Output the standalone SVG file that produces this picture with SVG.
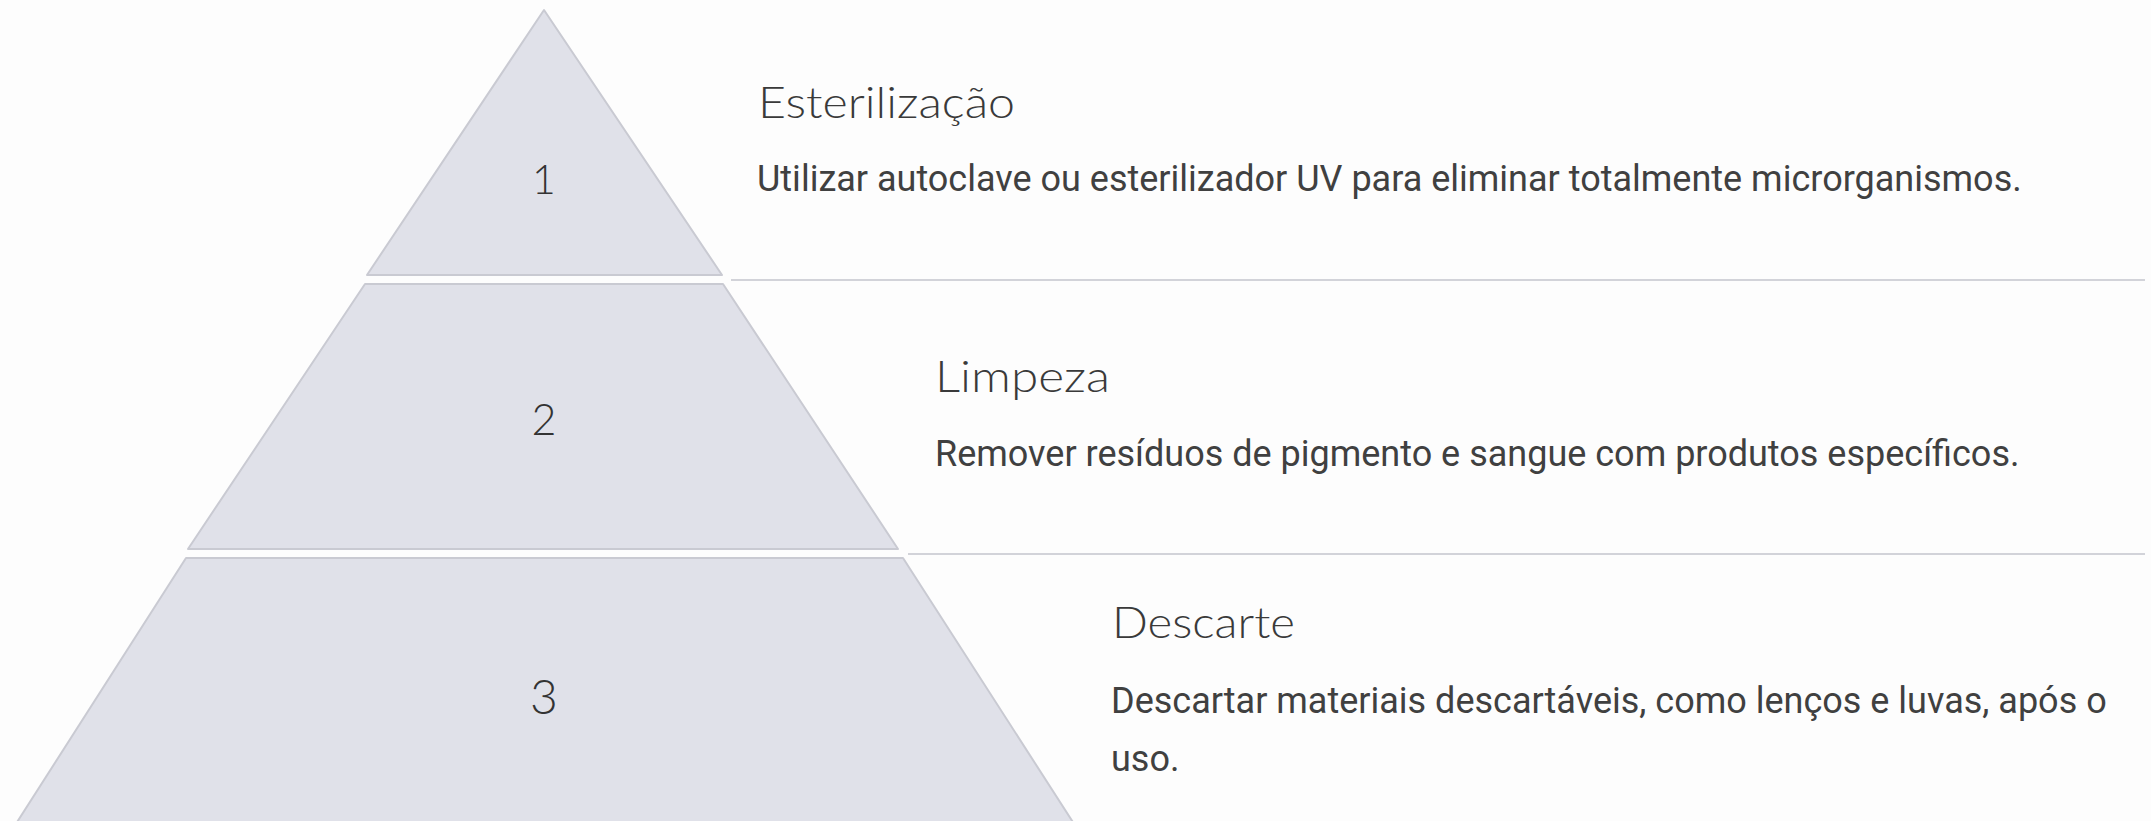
<svg xmlns="http://www.w3.org/2000/svg" width="2151" height="821" viewBox="0 0 2151 821">
<style>
.layer{fill:#e0e1e9;stroke:#c9cad2;stroke-width:2;stroke-linejoin:round}
.num{font-family:Lato,"Open Sans",sans-serif;font-weight:300;fill:#333;text-anchor:middle}
.title{font-family:Lato,"Open Sans",sans-serif;font-weight:300;font-size:44px;fill:#3a3a3a}
.body{font-family:Roboto,"Liberation Sans",sans-serif;font-size:36px;fill:#404040}
.sep{stroke:#d2d3d9;stroke-width:2}
</style>
<rect width="2151" height="821" fill="#fdfdfd"/>
<g id="connectors">
<line class="sep" x1="731" y1="280" x2="2145" y2="280"/>
<line class="sep" x1="908" y1="554" x2="2145" y2="554"/>
</g>
<g id="layer1">
<polygon class="layer" points="544,10 722,275 367,275"/>
<text class="num" x="544" y="194" font-size="41">1</text>
<text class="title" x="758" y="118" textLength="257" lengthAdjust="spacingAndGlyphs">Esterilização</text>
<text class="body" x="757" y="191">Utilizar autoclave ou esterilizador UV para eliminar totalmente microrganismos.</text>
</g>
<g id="layer2">
<polygon class="layer" points="365,284 723,284 898,549 188,549"/>
<text class="num" x="544" y="435" font-size="43">2</text>
<text class="title" x="935" y="392" textLength="175" lengthAdjust="spacingAndGlyphs">Limpeza</text>
<text class="body" x="935" y="466">Remover resíduos de pigmento e sangue com produtos específicos.</text>
</g>
<g id="layer3">
<polygon class="layer" points="186,558 903,558 1078,830 12,830"/>
<text class="num" x="544" y="714" font-size="48">3</text>
<text class="title" x="1112" y="638" textLength="183" lengthAdjust="spacingAndGlyphs">Descarte</text>
<text class="body" x="1111" y="713">Descartar materiais descartáveis, como lenços e luvas, após o</text>
<text class="body" x="1111" y="771">uso.</text>
</g>
</svg>
